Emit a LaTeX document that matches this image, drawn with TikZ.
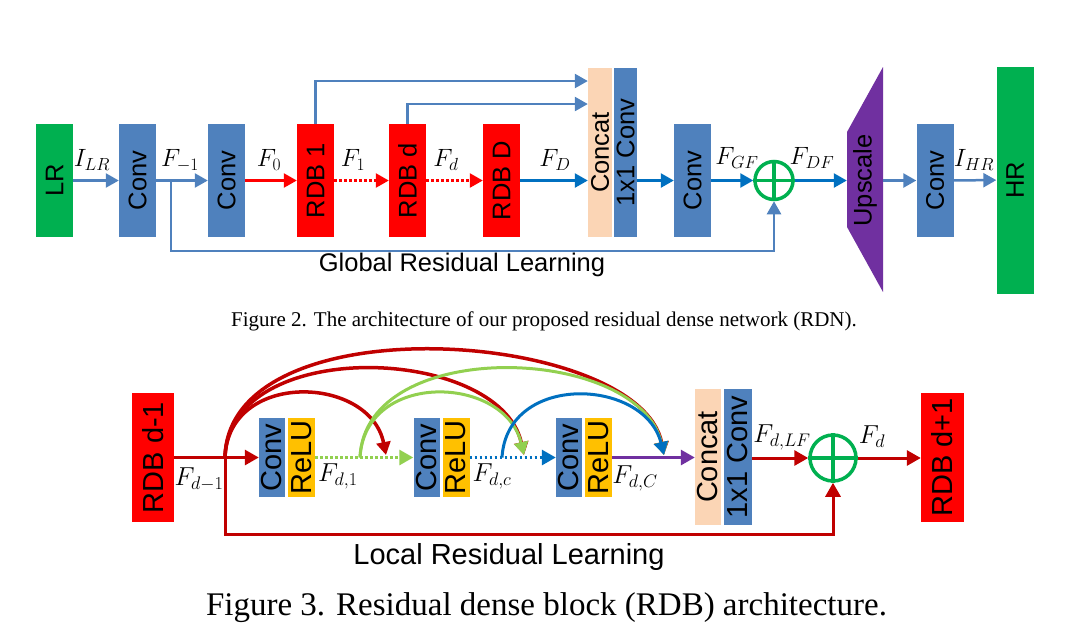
\documentclass[tikz,border=0pt]{standalone}
\usepackage{fix-cm}
\usepackage{graphicx}
\usepackage{fontspec}
\setmainfont{Liberation Serif}
\setsansfont{Liberation Sans}
\usetikzlibrary{arrows.meta}
\definecolor{cb}{HTML}{4F81BD}
\definecolor{gr}{HTML}{00B050}
\definecolor{rd}{HTML}{FF0000}
\definecolor{pch}{HTML}{FBD5B5}
\definecolor{pur}{HTML}{7030A0}
\definecolor{yel}{HTML}{FFC000}
\definecolor{dred}{HTML}{C00000}
\definecolor{lgr}{HTML}{92D050}
\definecolor{dblue}{HTML}{0070C0}
\tikzset{
  blk/.style={draw=none, inner sep=0pt, font=\sffamily\fontsize{25.5}{28}\selectfont},
  bblk/.style={draw=none, inner sep=0pt, font=\sffamily\fontsize{29}{32}\selectfont},
  lab/.style={inner sep=0pt, font=\fontsize{25}{29}\selectfont},
  blab/.style={inner sep=0pt, font=\fontsize{26}{30}\selectfont},
  tlin/.style={line width=2.5pt, -{Triangle[length=13pt,width=14pt]}},
  blin/.style={line width=3pt, -{Triangle[length=14pt,width=15pt]}},
  arc/.style={line width=3pt, -{Triangle[length=13pt,width=14pt]}},
  dots/.style={dash pattern=on 2.5pt off 2.5pt},
  plusc/.style={circle, draw=gr, line width=3.5pt, inner sep=0pt}
}
\begin{document}
\begin{tikzpicture}[x=1pt,y=-1pt]
\path[use as bounding box] (0,0) rectangle (1087,643);
% ---------------- Figure 2 ----------------
\node[blk,fill=gr,minimum width=37pt,minimum height=113pt] (lr) at (54.5,180.5) {\rotatebox{90}{LR}};
\node[blk,fill=cb,minimum width=37pt,minimum height=113pt] (c1) at (137.5,180.5) {\rotatebox{90}{Conv}};
\node[blk,fill=cb,minimum width=37pt,minimum height=113pt] (c2) at (226.5,180.5) {\rotatebox{90}{Conv}};
\node[blk,fill=rd,minimum width=37pt,minimum height=113pt] (r1) at (315.5,180.5) {\rotatebox{90}{RDB 1}};
\node[blk,fill=rd,minimum width=37pt,minimum height=113pt] (rdd) at (407.5,180.5) {\rotatebox{90}{RDB d}};
\node[blk,fill=rd,minimum width=37pt,minimum height=113pt] (rD) at (501.5,180.5) {\rotatebox{90}{RDB D}};
\node[blk,fill=pch,minimum width=24pt,minimum height=169pt] (cat) at (600,152.5) {\rotatebox{90}{Concat}};
\node[blk,fill=cb,minimum width=23pt,minimum height=169pt] (cv11) at (625.5,152.5) {\rotatebox{90}{1x1 Conv}};
\node[blk,fill=cb,minimum width=37pt,minimum height=113pt] (c3) at (692.5,180.5) {\rotatebox{90}{Conv}};
\node[plusc,minimum size=38pt] (plus) at (774,180.5) {};
\draw[gr,line width=3.5pt] (plus.north) -- (plus.south) (plus.west) -- (plus.east);
\fill[pur] (847,132) -- (883,67) -- (883,292) -- (847,227) -- cycle;
\node[blk,minimum width=36pt,minimum height=95pt] (up) at (865,180.5) {\rotatebox{90}{Upscale}};
\node[blk,fill=cb,minimum width=37pt,minimum height=113pt] (c4) at (935,180.5) {\rotatebox{90}{Conv}};
\node[blk,fill=gr,minimum width=37pt,minimum height=227pt] (hr) at (1015,180) {\rotatebox{90}{HR}};

\coordinate (fbA) at (600,81);
\coordinate (fbB) at (600,104);
\coordinate (gbr) at (171,180.5);
\coordinate (gbot) at (171,251);

\draw[tlin,cb] (lr) -- (c1);
\draw[tlin,cb] (c1) -- (c2);
\draw[tlin,rd] (c2) -- (r1);
\draw[tlin,rd,dots] (r1) -- (rdd);
\draw[tlin,rd,dots] (rdd) -- (rD);
\draw[tlin,dblue] (rD) -- (rD -| cat.west);
\draw[tlin,cb] (r1.north) |- (cat.west |- fbA);
\draw[tlin,cb] (rdd.north) |- (cat.west |- fbB);
\draw[tlin,dblue] (cv11.east |- c3) -- (c3);
\draw[tlin,dblue] (c3) -- (plus);
\draw[tlin,dblue] (plus) -- (up);
\draw[tlin,cb] (up) -- (c4);
\draw[tlin,cb] (c4) -- (hr);
\draw[tlin,cb] (gbr) -- (gbot) -| (plus.south);

\node[lab] (lILR) at (92,160) {$I_{LR}$};
\node[lab] (lFm1) at (180,161) {$F_{-1}$};
\node[lab] (lF0) at (269,160) {$F_{0}$};
\node[lab] (lF1) at (353,160) {$F_{1}$};
\node[lab] (lFd) at (446,160) {$F_{d}$};
\node[lab] (lFD) at (555,160) {$F_{D}$};
\node[lab] (lFGF) at (737,158) {$F_{GF}$};
\node[lab] (lFDF) at (812,158) {$F_{DF}$};
\node[lab] (lIHR) at (974,160) {$I_{HR}$};
\node[inner sep=0pt,font=\sffamily\fontsize{25.5}{28}\selectfont] (glr) at (462,265) {Global Residual Learning};
\node[inner sep=0pt,font=\fontsize{21}{25}\selectfont] (cap2) at (544,321) {Figure 2. The architecture of our proposed residual dense network (RDN).};

% ---------------- Figure 3 ----------------
\node[bblk,fill=rd,minimum width=42pt,minimum height=129pt] (rm) at (153,457.5) {\rotatebox{90}{RDB d-1}};
\node[bblk,fill=cb,minimum width=26pt,minimum height=79pt] (cv1) at (272,457.5) {\rotatebox{90}{Conv}};
\node[bblk,fill=yel,minimum width=27pt,minimum height=79pt] (rl1) at (301.5,457.5) {\rotatebox{90}{ReLU}};
\node[bblk,fill=cb,minimum width=26pt,minimum height=79pt] (cv2) at (426.5,457.5) {\rotatebox{90}{Conv}};
\node[bblk,fill=yel,minimum width=27pt,minimum height=79pt] (rl2) at (456,457.5) {\rotatebox{90}{ReLU}};
\node[bblk,fill=cb,minimum width=26pt,minimum height=79pt] (cv3) at (569,457.5) {\rotatebox{90}{Conv}};
\node[bblk,fill=yel,minimum width=27pt,minimum height=79pt] (rl3) at (598.5,457.5) {\rotatebox{90}{ReLU}};
\node[bblk,fill=pch,minimum width=26pt,minimum height=136pt] (cat2) at (708,457) {\rotatebox{90}{Concat}};
\node[bblk,fill=cb,minimum width=28pt,minimum height=136pt] (cv12) at (738,457) {\rotatebox{90}{1x1 Conv}};
\node[plusc,minimum size=46pt] (plus2) at (833,458) {};
\draw[gr,line width=3.5pt] (plus2.north) -- (plus2.south) (plus2.west) -- (plus2.east);
\node[bblk,fill=rd,minimum width=43pt,minimum height=129pt] (rp) at (942.5,457.5) {\rotatebox{90}{RDB d+1}};

\coordinate (br) at (225,457.5);
\coordinate (lbot) at (225,534);
\coordinate (g1) at (360,457.5);
\coordinate (b1) at (502,457.5);
\coordinate (t1) at (386,455);
\coordinate (t2) at (524,455);
\coordinate (t3) at (664,455);

% arcs
\draw[arc,dred,line width=3.5pt] (br) .. controls (228,370) and (370,375) .. (t1);
\draw[arc,dred,line width=3.5pt] (br) .. controls (228,335) and (500,345) .. (t2);
\draw[arc,dred,line width=3.5pt] (br) .. controls (228,300) and (640,330) .. (t3);
\draw[arc,lgr] (g1) .. controls (365,370) and (505,375) .. (t2);
\draw[arc,lgr] (g1) .. controls (365,335) and (640,345) .. (t3);
\draw[arc,dblue] (b1) .. controls (507,372) and (645,378) .. (t3);

\draw[blin,dred] (rm) -- (cv1);
\draw[blin,lgr,dots] (rl1) -- (cv2);
\draw[blin,dblue,dots] (rl2) -- (cv3);
\draw[blin,pur] (rl3) -- (cat2.west |- rl3);
\draw[blin,dred] (cv12.east |- plus2) -- (plus2);
\draw[blin,dred] (plus2) -- (rp.west |- plus2);
\draw[blin,dred] (br) -- (lbot) -| (plus2.south);

\node[blab] (lFdm1) at (199,479) {$F_{d-1}$};
\node[blab] (lFd1) at (338,476) {$F_{d,1}$};
\node[blab] (lFdc) at (492,476) {$F_{d,c}$};
\node[blab] (lFdC) at (635,478) {$F_{d,C}$};
\node[blab] (lFdLF) at (782,437) {$F_{d,LF}$};
\node[blab] (lFdd) at (872,437) {$F_{d}$};
\node[inner sep=0pt,font=\sffamily\fontsize{29}{32}\selectfont] (llr) at (509,557) {Local Residual Learning};
\node[inner sep=0pt,font=\fontsize{33}{37}\selectfont] (cap3) at (546.5,608) {Figure 3. Residual dense block (RDB) architecture.};
\end{tikzpicture}
\end{document}
